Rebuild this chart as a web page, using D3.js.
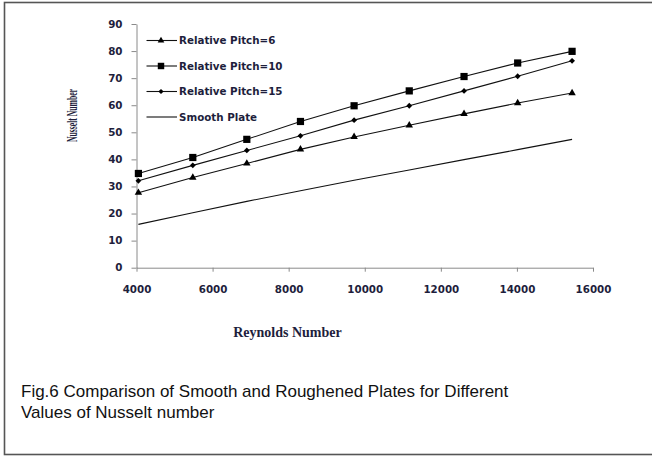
<!DOCTYPE html>
<html>
<head>
<meta charset="utf-8">
<script src="https://cdn.jsdelivr.net/npm/d3@7"></script>
<style>
  html, body { margin: 0; padding: 0; background: #fff; }
  svg { display: block; }
</style>
</head>
<body>
<svg id="chart" width="652" height="456"></svg>
<script>
// Reynolds numbers at which Nusselt number was evaluated
const reynolds = [4050, 5480, 6900, 8310, 9720, 11170, 12610, 14020, 15450];
// Nusselt number for each plate configuration
const pitch6  = [27.7, 33.3, 38.5, 43.7, 48.3, 52.6, 56.8, 60.8, 64.5];
const pitch10 = [34.8, 40.7, 47.4, 54.0, 59.8, 65.3, 70.6, 75.6, 79.9];
const pitch15 = [32.1, 37.8, 43.3, 48.7, 54.5, 59.8, 65.3, 70.7, 76.4];
const smooth  = [16.0, 20.3, 24.5, 28.4, 32.3, 36.1, 39.9, 43.6, 47.4];
const seriesNames = ["Relative Pitch=6", "Relative Pitch=10", "Relative Pitch=15", "Smooth Plate"];
const xTicks = [4000, 6000, 8000, 10000, 12000, 14000, 16000];
const yTicks = [0, 10, 20, 30, 40, 50, 60, 70, 80, 90];

const series = [
  { name: seriesNames[0], values: pitch6,  marker: "triangle" },
  { name: seriesNames[1], values: pitch10, marker: "square" },
  { name: seriesNames[2], values: pitch15, marker: "diamond" },
  { name: seriesNames[3], values: smooth,  marker: "none" }
];

const svg = d3.select("#chart");
const tickFont = "'DejaVu Sans', Verdana, sans-serif";
const serifFont = "'Liberation Serif', 'Times New Roman', serif";
const textColor = "#1e1e3c";
const axisColor = "#8a8a8a";

// outer frame
svg.append("rect")
  .attr("x", 4.5).attr("y", 2.5)
  .attr("width", 660).attr("height", 452)
  .attr("fill", "none").attr("stroke", "#555").attr("stroke-width", 1.6);

const x = d3.scaleLinear().domain([4000, 16000]).range([136.5, 593]);
const y = d3.scaleLinear().domain([0, 90]).range([267.7, 24]);

// y axis
const yAxis = svg.append("g")
  .attr("transform", `translate(${x(4000)},0)`)
  .call(d3.axisLeft(y).tickValues(yTicks).tickSize(5).tickPadding(9).tickSizeOuter(0));
yAxis.select(".domain").attr("stroke", axisColor);
yAxis.selectAll(".tick line").attr("stroke", axisColor);
yAxis.selectAll(".tick text")
  .attr("font-family", tickFont).attr("font-weight", "bold")
  .attr("font-size", "10.3px").attr("fill", textColor);

// x axis
const xAxis = svg.append("g")
  .attr("transform", `translate(0,${y(0)})`)
  .call(d3.axisBottom(x).tickValues(xTicks).tickFormat(d3.format("d"))
    .tickSize(4).tickPadding(14).tickSizeOuter(0));
xAxis.select(".domain").attr("stroke", axisColor);
xAxis.selectAll(".tick line").attr("stroke", axisColor);
xAxis.selectAll(".tick text")
  .attr("font-family", tickFont).attr("font-weight", "bold")
  .attr("font-size", "10.3px").attr("fill", textColor);

// axis titles
svg.append("text")
  .attr("transform", "translate(76.5,115.5) rotate(-90)")
  .attr("text-anchor", "middle")
  .attr("font-family", serifFont).attr("font-weight", "bold")
  .attr("font-size", "14px").attr("fill", textColor)
  .attr("textLength", 53).attr("lengthAdjust", "spacingAndGlyphs")
  .text("Nusselt Number");

svg.append("text")
  .attr("x", 287.5).attr("y", 336.7)
  .attr("text-anchor", "middle")
  .attr("font-family", serifFont).attr("font-weight", "bold")
  .attr("font-size", "14px").attr("fill", textColor)
  .text("Reynolds Number");

// marker shapes
function markerPath(kind, scale) {
  if (kind === "triangle") return d3.symbol(d3.symbolTriangle, 24 * scale)();
  if (kind === "square") return d3.symbol(d3.symbolSquare, 52 * scale)();
  if (kind === "diamond") {
    const r = 2.9 * Math.sqrt(scale);
    return `M0,${-r}L${r},0L0,${r}L${-r},0Z`;
  }
  return null;
}

const line = d3.line()
  .x((d, i) => x(reynolds[i]))
  .y(d => y(d));

const plot = svg.append("g");
series.forEach(s => {
  plot.append("path")
    .attr("d", line(s.values))
    .attr("fill", "none").attr("stroke", "#111").attr("stroke-width", 1.1);
  if (s.marker !== "none") {
    plot.selectAll(null)
      .data(s.values)
      .join("path")
      .attr("transform", (d, i) => `translate(${x(reynolds[i])},${y(d)})`)
      .attr("d", markerPath(s.marker, 1))
      .attr("fill", "#000");
  }
});

// legend
const legend = svg.append("g");
const legendRowY = [40.5, 66, 91.5, 117];
series.forEach((s, i) => {
  const g = legend.append("g").attr("transform", `translate(0,${legendRowY[i]})`);
  g.append("line")
    .attr("x1", 146.5).attr("x2", 177)
    .attr("stroke", "#111").attr("stroke-width", 1.1);
  if (s.marker !== "none") {
    g.append("path")
      .attr("transform", "translate(161,0)")
      .attr("d", markerPath(s.marker, 0.8))
      .attr("fill", "#000");
  }
  g.append("text")
    .attr("x", 179).attr("y", 3.8)
    .attr("font-family", tickFont).attr("font-weight", "bold")
    .attr("font-size", "10.3px").attr("fill", textColor)
    .text(s.name);
});

// figure caption
const captionLines = [
  "Fig.6 Comparison of Smooth and Roughened Plates for Different",
  "Values of Nusselt number"
];
svg.append("g").selectAll("text")
  .data(captionLines)
  .join("text")
  .attr("x", 21)
  .attr("y", (d, i) => 397 + i * 20.6)
  .attr("font-family", "'Liberation Sans', Arial, sans-serif")
  .attr("font-size", "17px").attr("fill", "#111")
  .text(d => d);
</script>
</body>
</html>
